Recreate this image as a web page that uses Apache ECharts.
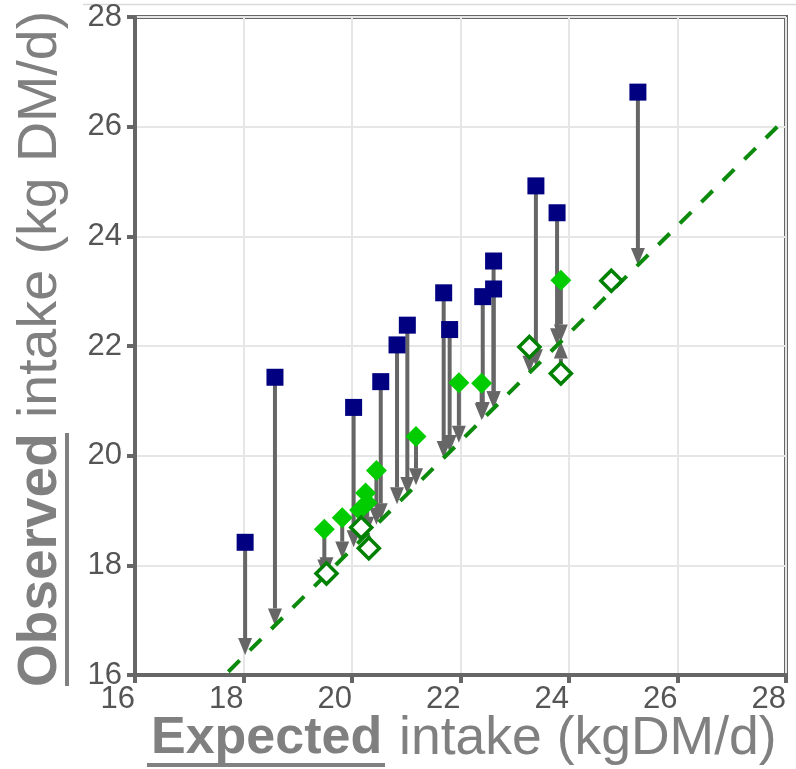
<!DOCTYPE html>
<html>
<head>
<meta charset="utf-8">
<script src="https://cdn.jsdelivr.net/npm/echarts@6/dist/echarts.min.js"></script>
<style>
  html, body { margin: 0; padding: 0; background: #fff; }
  #chart { width: 796px; height: 769px; }
</style>
</head>
<body>
<div id="chart"></div>
<script>
// axis ticks
const axisMin = 16
const axisMax = 28
const axisStep = 2

// blue squares
const blueX = [18.03, 18.58, 20.03, 20.53, 20.83, 21.02, 21.69, 21.80, 22.41, 22.61, 22.61, 23.39, 23.78, 25.27]
const blueY = [18.42, 21.43, 20.88, 21.35, 22.02, 22.38, 22.97, 22.30, 22.90, 23.04, 23.55, 24.92, 24.43, 26.63]

// filled green diamonds
const greenX = [19.49, 19.82, 20.14, 20.25, 20.28, 20.45, 21.18, 21.97, 22.39, 23.85]
const greenY = [18.66, 18.87, 19.01, 19.32, 19.14, 19.73, 20.35, 21.33, 21.32, 23.20]

// open diamonds
const openX = [19.53, 20.17, 20.31, 23.27, 23.85, 24.78]
const openY = [17.85, 18.69, 18.31, 21.98, 21.50, 23.19]

// dashed reference line (two ends)
const lineX = [17.72, 27.84]
const lineY = [16.06, 26.0]

const font = "'Liberation Sans', Arial, sans-serif"

// value of the reference line at x
const onLine = (x) => lineY[0] + (lineY[1] - lineY[0]) * (x - lineX[0]) / (lineX[1] - lineX[0])

let arrowData = []
blueX.forEach((x, i) => arrowData.push([x, blueY[i], onLine(x)]))
greenX.forEach((x, i) => arrowData.push([x, greenY[i], onLine(x)]))
openX.forEach((x, i) => arrowData.push([x, openY[i], onLine(x)]))

const pairs = (xs, ys) => xs.map((x, i) => [x, ys[i]])

const renderArrow = (params, api) => {
    const p0 = api.coord([api.value(0), api.value(1)])
    const p1 = api.coord([api.value(0), api.value(2)])
    const dir = p1[1] >= p0[1] ? 1 : -1
    const headLen = 17
    const headW = 14
    const base = p1[1] - dir * headLen
    const children = []
    if ((base - p0[1]) * dir > 0) {
        children.push({
            type: 'line',
            shape: {x1: p0[0], y1: p0[1], x2: p1[0], y2: base},
            style: {stroke: '#666', lineWidth: 4}
        })
    }
    children.push({
        type: 'polygon',
        shape: {points: [[p1[0], p1[1]], [p1[0] - headW / 2, base], [p1[0] + headW / 2, base]]},
        style: {fill: '#666'}
    })
    return {type: 'group', children: children}
}

const axisCommon = {
    type: 'value',
    min: axisMin,
    max: axisMax,
    interval: axisStep,
    axisLine: {show: true, lineStyle: {color: '#666', width: 4}},
    axisTick: {show: true, length: 8, lineStyle: {color: '#666', width: 4}},
    splitLine: {show: true, lineStyle: {color: '#e6e6e6', width: 2}},
}

let myChart = echarts.init(document.getElementById('chart'), null, {renderer: 'canvas'})
let option = {
    animation: false,
    backgroundColor: '#fff',
    grid: {
        left: 135, right: 10, top: 17, bottom: 94,
        show: true, borderColor: '#666', borderWidth: 4
    },
    xAxis: Object.assign({}, axisCommon, {
        axisLabel: {fontSize: 31, color: '#555', fontFamily: font, align: 'right', margin: 9}
    }),
    yAxis: Object.assign({}, axisCommon, {
        axisLabel: {fontSize: 31, color: '#555', fontFamily: font, margin: 13}
    }),
    series: [
        {
            type: 'custom',
            renderItem: renderArrow,
            data: arrowData,
            z: 2,
            silent: true
        },
        {
            type: 'line',
            data: pairs(lineX, lineY),
            symbol: 'none',
            lineStyle: {color: '#0b8a0b', width: 4, type: [16, 14.3]},
            z: 3
        },
        {
            type: 'scatter',
            data: pairs(blueX, blueY),
            symbol: 'rect',
            symbolSize: 17,
            itemStyle: {color: '#000080', opacity: 1},
            z: 4
        },
        {
            type: 'scatter',
            data: pairs(greenX, greenY),
            symbol: 'diamond',
            symbolSize: 21,
            itemStyle: {color: '#00cc00', opacity: 1},
            z: 5
        },
        {
            type: 'scatter',
            data: pairs(openX, openY),
            symbol: 'diamond',
            symbolSize: 21,
            itemStyle: {color: '#fff', borderColor: '#008000', borderWidth: 3.5, opacity: 1},
            z: 6
        }
    ],
    graphic: [
        {type: 'line', shape: {x1: 83, y1: 4.5, x2: 796, y2: 4.5}, style: {stroke: '#d9d9d9', lineWidth: 1.5}},
        // x title
        {type: 'text', x: 151, y: 739, style: {text: 'Expected', fontFamily: font, fontSize: 52, fontWeight: 'bold', fill: '#808080', align: 'left', verticalAlign: 'middle'}},
        {type: 'text', x: 399, y: 739, style: {text: 'intake (kgDM/d)', fontFamily: font, fontSize: 53.5, fill: '#808080', align: 'left', verticalAlign: 'middle'}},
        {type: 'rect', shape: {x: 147, y: 763, width: 238, height: 4}, style: {fill: '#808080'}},
        // y title
        {type: 'text', x: 41, y: 687, rotation: Math.PI / 2, style: {text: 'Observed', fontFamily: font, fontSize: 55, fontWeight: 'bold', fill: '#808080', align: 'left', verticalAlign: 'middle'}},
        {type: 'text', x: 41, y: 418, rotation: Math.PI / 2, style: {text: 'intake (kg DM/d)', fontFamily: font, fontSize: 55.5, fill: '#808080', align: 'left', verticalAlign: 'middle'}},
        {type: 'rect', shape: {x: 65, y: 433, width: 4, height: 253}, style: {fill: '#808080'}}
    ]
}
option && myChart.setOption(option)
</script>
</body>
</html>
